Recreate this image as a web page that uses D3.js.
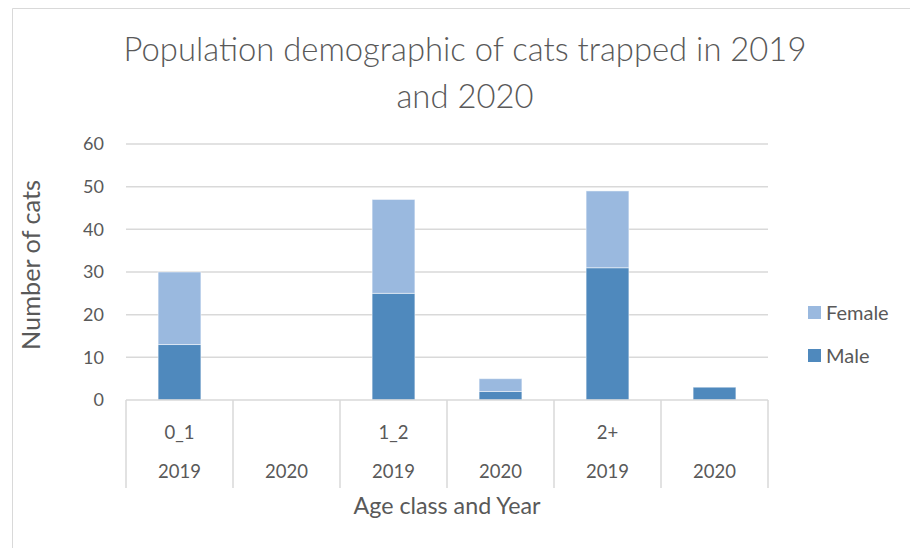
<!DOCTYPE html>
<html><head><meta charset="utf-8">
<script src="https://cdn.jsdelivr.net/npm/d3@7/dist/d3.min.js"></script>
<style>body{margin:0;background:#fff}svg{display:block}text{font-family:Lato,"Open Sans",sans-serif;fill:#595959}</style>
</head><body><svg id="c" width="910" height="548"></svg>
<script>
const columns = ["c1","c2","c3","c4","c5","c6"];
const ageClasses = ["0_1","","1_2","","2+",""];
const years = ["2019","2020","2019","2020","2019","2020"];
const male = [13,0,25,2,31,3];
const female = [17,0,22,3,18,0];
const yTicks = [0,10,20,30,40,50,60];
const seriesNames = ["Female","Male"];
const colors = {Female:"#9ab9df",Male:"#4f89bd"};

const svg = d3.select("#c");
const L=126,R=768,T=144,B=400;
const x = d3.scaleBand().domain(columns).range([L,R]).padding(0);
const y = d3.scaleLinear().domain([0,60]).range([B,T]);

// chart border
svg.append("path").attr("d","M12.5,548 V8.5 H910").attr("fill","none").attr("stroke","#d9d9d9").attr("stroke-width",1);

function fit(sel,w){const n=sel.node();const cur=n.getComputedTextLength();const fs=parseFloat(sel.attr("font-size"));sel.attr("font-size",fs*w/cur);}

// title
const t1=svg.append("text").attr("x",465).attr("y",61).attr("text-anchor","middle").attr("font-size",30).attr("font-weight",300).text("Population demographic of cats trapped in 2019");
fit(t1,683);
const t2=svg.append("text").attr("x",465).attr("y",108).attr("text-anchor","middle").attr("font-size",t1.attr("font-size")).attr("font-weight",300).text("and 2020");

// gridlines
svg.append("g").selectAll("line").data(yTicks.filter(d=>d>0)).join("line")
 .attr("x1",L).attr("x2",R).attr("y1",d=>y(d)).attr("y2",d=>y(d)).attr("stroke","#d9d9d9").attr("stroke-width",1.5);

// y axis labels
const ya=svg.append("g").attr("transform",`translate(${L},0)`).call(d3.axisLeft(y).tickValues(yTicks).tickSize(0).tickPadding(22));
ya.select(".domain").remove();
ya.selectAll("text").attr("font-size",18).attr("fill","#595959").style("font-family","Lato,sans-serif");

// bars
const stackData = columns.map((c,i)=>({col:c,Male:male[i],Female:female[i]}));
const stack = d3.stack().keys(["Male","Female"])(stackData);
const bw = x.bandwidth()*0.4;
svg.append("g").selectAll("g").data(stack).join("g").attr("fill",d=>colors[d.key])
 .selectAll("rect").data(d=>d.filter(v=>v[1]-v[0]>0)).join("rect")
 .attr("x",d=>x(d.data.col)+x.bandwidth()/2-bw/2).attr("width",bw)
 .attr("y",d=>y(d[1])).attr("height",d=>y(d[0])-y(d[1]))
 .attr("stroke","#ffffff").attr("stroke-opacity",0.5).attr("stroke-width",1);

// x axis line & category boundaries
svg.append("line").attr("x1",L).attr("x2",R).attr("y1",B).attr("y2",B).attr("stroke","#d9d9d9").attr("stroke-width",1.5);
const bounds = columns.map(c=>x(c)).concat([R]);
svg.append("g").selectAll("line").data(bounds).join("line")
 .attr("x1",d=>d).attr("x2",d=>d).attr("y1",B).attr("y2",488).attr("stroke","#d9d9d9").attr("stroke-width",1.5);

svg.append("g").selectAll("text").data(columns).join("text")
 .attr("x",c=>x(c)+x.bandwidth()/2).attr("y",439).attr("text-anchor","middle").attr("font-size",18.5)
 .text((c,i)=>ageClasses[i]);
svg.append("g").selectAll("text").data(columns).join("text")
 .attr("x",c=>x(c)+x.bandwidth()/2).attr("y",478).attr("text-anchor","middle").attr("font-size",18.5)
 .text((c,i)=>years[i]);

// axis titles
const xt=svg.append("text").attr("x",447).attr("y",514).attr("text-anchor","middle").attr("font-size",19).text("Age class and Year");
fit(xt,187);
const yt=svg.append("text").attr("transform","translate(40,265) rotate(-90)").attr("text-anchor","middle").attr("font-size",19).text("Number of cats");
fit(yt,170);

// legend
const lg=svg.append("g").selectAll("g").data(seriesNames).join("g").attr("transform",(d,i)=>`translate(808,${306+i*43})`);
lg.append("rect").attr("width",13).attr("height",13).attr("fill",d=>colors[d]);
lg.append("text").attr("x",18).attr("y",14).attr("font-size",20).text(d=>d);
</script></body></html>
